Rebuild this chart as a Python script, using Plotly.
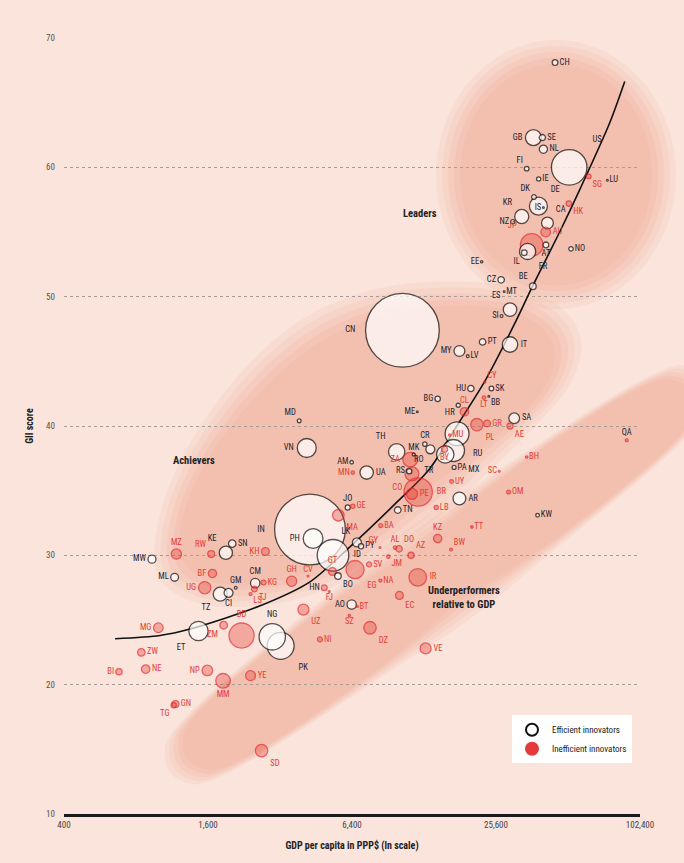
import numpy as np
import plotly.graph_objects as go

# ---------------- data ----------------
codes = ["CH","GB","SE","NL","US","FI","IE","SG","LU","DK","DE","IS","KR","NZ","CA","HK","AU","JP","FR","IL",
         "AT","NO","EE","CZ","BE","MT","ES","SI","CN","PT","IT","MY","LV","CY","HU","SK","BB","LT","BG","CL",
         "HR","ME","GR","PL","SA","AE","QA","MU","RU","CR","TH","MK","RO","TR","BY","MX","ZA","RS","CO","BR",
         "PE","PA","UY","AR","LB","TN","AM","MN","UA","JO","GE","MA","BA","KZ","TT","BW","VN","MD","IN","MZ",
         "RW","KE","SN","KH","MW","ML","BF","UG","GM","TZ","CI","CM","KG","TJ","LS","GH","UZ","MG","ET","ZM",
         "BD","NG","PK","ZW","NE","BI","NP","YE","MM","GN","TG","SD","EG","SV","JM","AZ","NA","IR","EC","HN",
         "FJ","AO","BT","SZ","DZ","NI","VE","BH","SC","OM","KW","PH","ID","LK","PY","GT","BO","GY","AL","DO","CV"]
gdp = [45200,36700,40000,40400,51800,34400,38600,62500,74800,36900,38500,40400,32800,30100,42000,51600,41300,36100,34700,33600,
       41400,52700,22300,26900,36500,27700,29300,27000,10400,22500,29300,18000,19500,23000,20100,24500,23900,22800,14600,18900,
       17800,12000,23500,21300,30500,29300,90100,16400,17600,12900,9840,11600,13600,15700,15600,17000,11200,11100,11400,12100,
       11400,17100,16700,18000,14400,9940,6380,6450,7370,6140,6450,5610,8440,14600,20300,16600,4140,3850,4270,1180,
       1650,1900,2020,2780,933,1160,1670,1550,2090,1800,1950,2520,2730,2500,2410,3580,4010,992,1460,1860,
       2210,2970,3220,842,878,679,1590,2410,1850,1170,1150,2680,6590,7540,9080,11300,8410,12050,10100,4900,
       5140,6380,6740,6240,7610,4700,13000,34400,26400,28900,38200,4400,5330,6710,6980,5300,5590,8380,9680,10070,4190]
gii = [68.1,62.3,62.3,61.4,60.0,59.9,59.1,59.3,59.0,57.7,57.0,56.9,56.2,55.8,55.7,57.2,55.0,54.0,53.5,53.4,
       54.0,53.7,52.7,51.3,50.8,50.4,49.0,48.5,47.4,46.5,46.3,45.8,45.4,43.4,42.9,42.9,42.3,42.2,42.1,41.1,
       41.6,41.1,40.2,40.1,40.6,40.0,38.9,39.3,39.4,38.6,38.0,37.8,38.2,37.8,38.2,38.1,37.4,36.5,36.3,34.9,
       34.75,36.8,35.7,34.4,33.7,33.5,37.2,36.4,36.4,33.7,33.8,33.1,32.3,31.3,32.2,30.45,38.3,40.4,32.0,30.1,
       30.1,30.2,30.9,30.3,29.7,28.3,28.6,27.5,27.5,27.0,27.1,27.85,27.9,27.4,27.0,28.0,25.8,24.4,24.15,24.6,
       23.8,23.7,23.0,22.5,21.2,21.0,21.1,20.7,20.3,18.5,18.4,14.9,28.9,29.3,29.9,30.0,28.05,28.3,26.9,27.5,
       27.2,26.2,26.05,25.35,24.4,23.5,22.8,37.6,36.5,34.9,33.1,31.3,30.0,31.0,30.7,28.75,28.4,30.6,30.6,30.5,28.4]
population_m = [8.1,64,9.6,16.8,316,5.4,4.6,5.4,0.54,5.6,81,0.32,50,4.5,35,7.2,23,127,66,8,
                8.5,5.1,1.3,10.5,11.2,0.42,46,2.06,1360,10.5,60,29.7,2.0,1.1,9.9,5.4,0.28,3.0,7.3,17.6,
                4.3,0.62,11,38.5,29,9,2.1,1.3,143,4.9,67,2.1,20,76,9.5,122,53,7.2,48,200,
                30,3.9,3.4,41,4.5,10.9,3.0,2.8,45,6.5,4.5,33,3.8,17,1.3,2.0,90,3.6,1250,26,
                11.8,44,14,15,16,15.3,17,37.6,1.85,49,20,22,5.7,8.2,2.07,26,30,23,94,14.5,
                157,174,182,14,17.8,10,27.8,24.4,53,11.7,6.8,38,82,6.3,2.7,9.4,2.3,77,15.7,8.1,
                0.88,21.5,0.75,1.25,39,6.1,30,1.3,0.09,3.6,3.4,98,250,20.5,6.8,15.5,10.7,0.8,2.8,10.4,0.5]
efficient = [1,1,1,1,1,1,1,0,1,1,1,1,1,1,1,0,0,0,1,1,
             1,1,1,1,1,1,1,1,1,1,1,1,1,0,1,1,1,0,1,0,
             1,1,0,0,1,0,0,0,1,1,1,1,1,1,0,1,0,1,0,0,
             0,1,0,1,0,1,1,0,1,1,0,0,0,0,0,0,1,1,1,0,
             0,1,1,0,1,1,0,0,1,1,1,1,0,0,0,0,0,0,1,0,
             0,1,1,0,0,0,0,0,0,0,0,0,0,0,0,0,0,0,0,0,
             0,1,0,0,0,0,0,0,0,0,1,1,1,1,1,0,1,0,0,0,0]

curve_gdp = [654, 1008, 1346, 2644, 4268, 6277, 9882, 13500, 18100, 23000, 31300, 36400, 47200, 57400, 76600, 88400]
curve_gii = [23.55, 23.8, 24.3, 26.1, 27.95, 30.66, 34.13, 36.68, 40.39, 43.47, 48.26, 50.81, 54.98, 58.3, 63.47, 66.64]

x_tick_vals = [400, 1600, 6400, 25600, 102400]
x_tick_text = ["400", "1,600", "6,400", "25,600", "102,400"]
y_tick_vals = [10, 20, 30, 40, 50, 60, 70]

# ---------------- styling ----------------
label_pos = {
 "CH":"middle right","GB":"middle left","SE":"middle right","NL":"middle right","US":"top right","FI":"top left",
 "IE":"middle right","SG":"bottom right","LU":"middle right","DK":"top left","DE":"top right","IS":"middle left",
 "KR":"top left","NZ":"middle left","CA":"top right","HK":"bottom right","AU":"middle right","JP":"top left",
 "FR":"bottom right","IL":"bottom left","AT":"bottom center","NO":"middle right","EE":"middle left","CZ":"middle left",
 "BE":"top left","MT":"middle right","ES":"top left","SI":"middle left","CN":"middle left","PT":"middle right",
 "IT":"middle right","MY":"middle left","LV":"middle right","CY":"top right","HU":"middle left","SK":"middle right",
 "BB":"bottom right","LT":"bottom center","BG":"middle left","CL":"top center","HR":"bottom left","ME":"middle left",
 "GR":"middle right","PL":"bottom right","SA":"middle right","AE":"bottom right","QA":"top center","MU":"middle right",
 "RU":"bottom right","CR":"top center","TH":"top left","MK":"top center","RO":"bottom left","TR":"bottom left",
 "BY":"bottom center","MX":"bottom right","ZA":"middle left","RS":"middle left","CO":"bottom left","BR":"middle right",
 "PE":"middle right","PA":"middle right","UY":"middle right","AR":"middle right","LB":"middle right","TN":"middle right",
 "AM":"middle left","MN":"middle left","UA":"middle right","JO":"top center","GE":"middle right","MA":"bottom right",
 "BA":"middle right","KZ":"top center","TT":"middle right","BW":"top right","LK":"top left","PY":"middle right",
 "ID":"middle right","IN":"middle left","PH":"middle left","GT":"top center","BO":"bottom right","EG":"bottom right",
 "SV":"middle right","JM":"bottom right","AZ":"top right","AL":"top center","DO":"top right","GY":"top left",
 "NA":"middle right","IR":"middle right","EC":"bottom right","HN":"middle left","FJ":"bottom center","AO":"middle left",
 "BT":"middle right","SZ":"bottom center","DZ":"bottom right","NI":"middle right","VE":"middle right","UZ":"bottom right",
 "CV":"top center","BH":"middle right","SC":"middle left","OM":"middle right","KW":"middle right","VN":"middle left",
 "MD":"top left","MZ":"top center","RW":"top left","KE":"top left","SN":"middle right","KH":"middle left",
 "MW":"middle left","ML":"middle left","BF":"middle left","UG":"middle left","GM":"top center","TZ":"bottom left",
 "CI":"bottom center","CM":"top center","KG":"middle right","TJ":"bottom right","LS":"bottom right","GH":"top center",
 "MG":"middle left","ET":"bottom left","ZM":"bottom left","BD":"top center","NG":"top center","PK":"bottom right",
 "ZW":"middle right","NE":"middle right","BI":"middle left","NP":"middle left","YE":"middle right","MM":"bottom center",
 "GN":"middle right","TG":"bottom left","SD":"bottom right"}
dark_labels = {"QA", "HN"}

BG = "#FAE4DB"
BLOB = "rgb(238,158,132)"
RED_LINE = "#E2262D"
RED_FILL = "rgba(228,60,50,0.5)"
DARK = "#23232F"
RED_TXT = "#E33B33"
FONT = "Liberation Sans Narrow, Roboto Condensed, DejaVu Sans Condensed, Arial Narrow, Roboto, sans-serif"

W, H = 684, 863
ML_, MR_, MT_, MB_ = 64, 44, 38, 47
PW, PH = W - ML_ - MR_, H - MT_ - MB_


def to_paper(pts):
    return [((x - ML_) / PW, (H - MB_ - y) / PH) for x, y in pts]


def chaikin(pts, n=3):
    for _ in range(n):
        new = []
        for i in range(len(pts)):
            p, q = pts[i], pts[(i + 1) % len(pts)]
            new.append((0.75 * p[0] + 0.25 * q[0], 0.75 * p[1] + 0.25 * q[1]))
            new.append((0.25 * p[0] + 0.75 * q[0], 0.25 * p[1] + 0.75 * q[1]))
        pts = new
    return pts


def shrink(pts, d):
    cx = sum(p[0] for p in pts) / len(pts)
    cy = sum(p[1] for p in pts) / len(pts)
    out = []
    for x, y in pts:
        r = np.hypot(x - cx, y - cy)
        k = max(r - d, 1) / r
        out.append((cx + (x - cx) * k, cy + (y - cy) * k))
    return out


def path(pts):
    pp = to_paper(pts)
    return "M " + " L ".join(f"{x:.4f},{y:.4f}" for x, y in pp) + " Z"


# blob outlines (pixel space)
th = np.linspace(0, 2 * np.pi, 90, endpoint=False)
leaders_blob = [(556 + 110 * np.cos(t), 175 + 125 * np.sin(t)) for t in th]
achievers_blob = chaikin([(162, 572), (168, 515), (190, 462), (224, 410), (268, 360), (318, 322), (380, 298),
                          (450, 291), (512, 295), (554, 314), (574, 345), (562, 388), (522, 430), (468, 478),
                          (418, 520), (368, 558), (318, 586), (258, 600), (200, 598)])
ax0, ay0, ax1, ay1, hw = 205, 748, 672, 404, 46
dx, dy = ax1 - ax0, ay1 - ay0
ln = np.hypot(dx, dy)
ux, uy = dx / ln, dy / ln
nx, ny = -uy * hw, ux * hw
band_blob = chaikin([(ax0 + nx, ay0 + ny), (ax1 + nx, ay1 + ny), (ax1 + ux * hw, ay1 + uy * hw),
                     (ax1 - nx, ay1 - ny), (ax0 - nx, ay0 - ny), (ax0 - ux * hw, ay0 - uy * hw)], 4)

shapes = []
for blob, feather in ((leaders_blob, 10), (achievers_blob, 12), (band_blob, 9)):
    for k, op in ((-1.0, 0.10), (-0.4, 0.12), (0.2, 0.13), (0.8, 0.13), (1.4, 0.12)):
        shapes.append(dict(type="path", path=path(shrink(blob, k * feather)), xref="paper", yref="paper",
                           fillcolor=BLOB, opacity=op, line=dict(width=0), layer="below"))

# ---------------- figure ----------------
order = list(np.argsort(-np.array(population_m), kind="stable"))
fig = go.Figure()

fig.add_trace(go.Scatter(
    x=curve_gdp, y=curve_gii, mode="lines", line=dict(color="#111111", width=1.6, shape="spline", smoothing=0.8),
    showlegend=False, hoverinfo="skip"))


def label_color(i):
    if efficient[i] or codes[i] in dark_labels:
        return DARK
    return RED_TXT


fig.add_trace(go.Scatter(
    x=[gdp[i] for i in order], y=[gii[i] for i in order], mode="markers+text",
    text=[codes[i] for i in order],
    textposition=[label_pos.get(codes[i], "middle right") for i in order],
    textfont=dict(family=FONT, size=8.5, color=[label_color(i) for i in order]),
    marker=dict(size=[population_m[i] for i in order], sizemode="area", sizeref=0.5, sizemin=0.9,
                color=["#FFFFFF" if efficient[i] else RED_FILL for i in order],
                line=dict(color=["#111111" if efficient[i] else RED_LINE for i in order], width=1.3)),
    showlegend=False, hoverinfo="skip", cliponaxis=False))

fig.add_trace(go.Scatter(x=[None], y=[None], mode="markers", name="Efficient innovators",
                         marker=dict(size=8, color="#FFFFFF", line=dict(color="#111111", width=2.2))))
fig.add_trace(go.Scatter(x=[None], y=[None], mode="markers", name="Inefficient innovators",
                         marker=dict(size=9, color="#E5393A", line=dict(color="#E5393A", width=1))))

ann = []
def add_text(px, py, txt, size=10.5, bold=True, align="center"):
    x, y = to_paper([(px, py)])[0]
    ann.append(dict(x=x, y=y, xref="paper", yref="paper", text=f"<b>{txt}</b>" if bold else txt,
                    showarrow=False, align=align, font=dict(family=FONT, size=size, color="#222222")))

add_text(420, 205, "Leaders")
add_text(171, 462, "Achievers")
add_text(502, 614, "Underperformers<br>relative to GDP")

fig.update_layout(
    width=W, height=H, margin=dict(l=ML_, r=MR_, t=MT_, b=MB_),
    paper_bgcolor=BG, plot_bgcolor=BG,
    shapes=shapes, annotations=ann,
    font=dict(family=FONT, size=9, color="#333333"),
    legend=dict(x=(512 - ML_) / PW, y=(H - MB_ - 717) / PH, xanchor="left", yanchor="top",
                bgcolor="#FFFFFF", borderwidth=0, font=dict(family=FONT, size=9, color="#222222"),
                itemsizing="constant", tracegroupgap=2),
    xaxis=dict(type="log", range=[np.log10(400), np.log10(102400)], tickvals=x_tick_vals, ticktext=x_tick_text,
               showgrid=False, zeroline=False, showline=True, linecolor="#1A1A1A", linewidth=3,
               ticks="", tickfont=dict(family=FONT, size=9, color="#444444"),
               title=dict(text="<b>GDP per capita in PPP$ (ln scale)</b>", font=dict(family=FONT, size=10, color="#222222"), standoff=14)),
    yaxis=dict(range=[10, 70], tickvals=y_tick_vals, showgrid=True, gridcolor="#A89A94", griddash="dot",
               gridwidth=1, zeroline=False, showline=False, ticks="", ticklabelstandoff=8,
               tickfont=dict(family=FONT, size=9, color="#555555"),
               title=dict(text="<b>GII score</b>", font=dict(family=FONT, size=10, color="#222222"), standoff=10)),
)

fig.write_html("out.html", config={"displayModeBar": False, "staticPlot": True},
               post_script="document.body.style.margin='0px';document.body.style.background='" + BG + "';")
